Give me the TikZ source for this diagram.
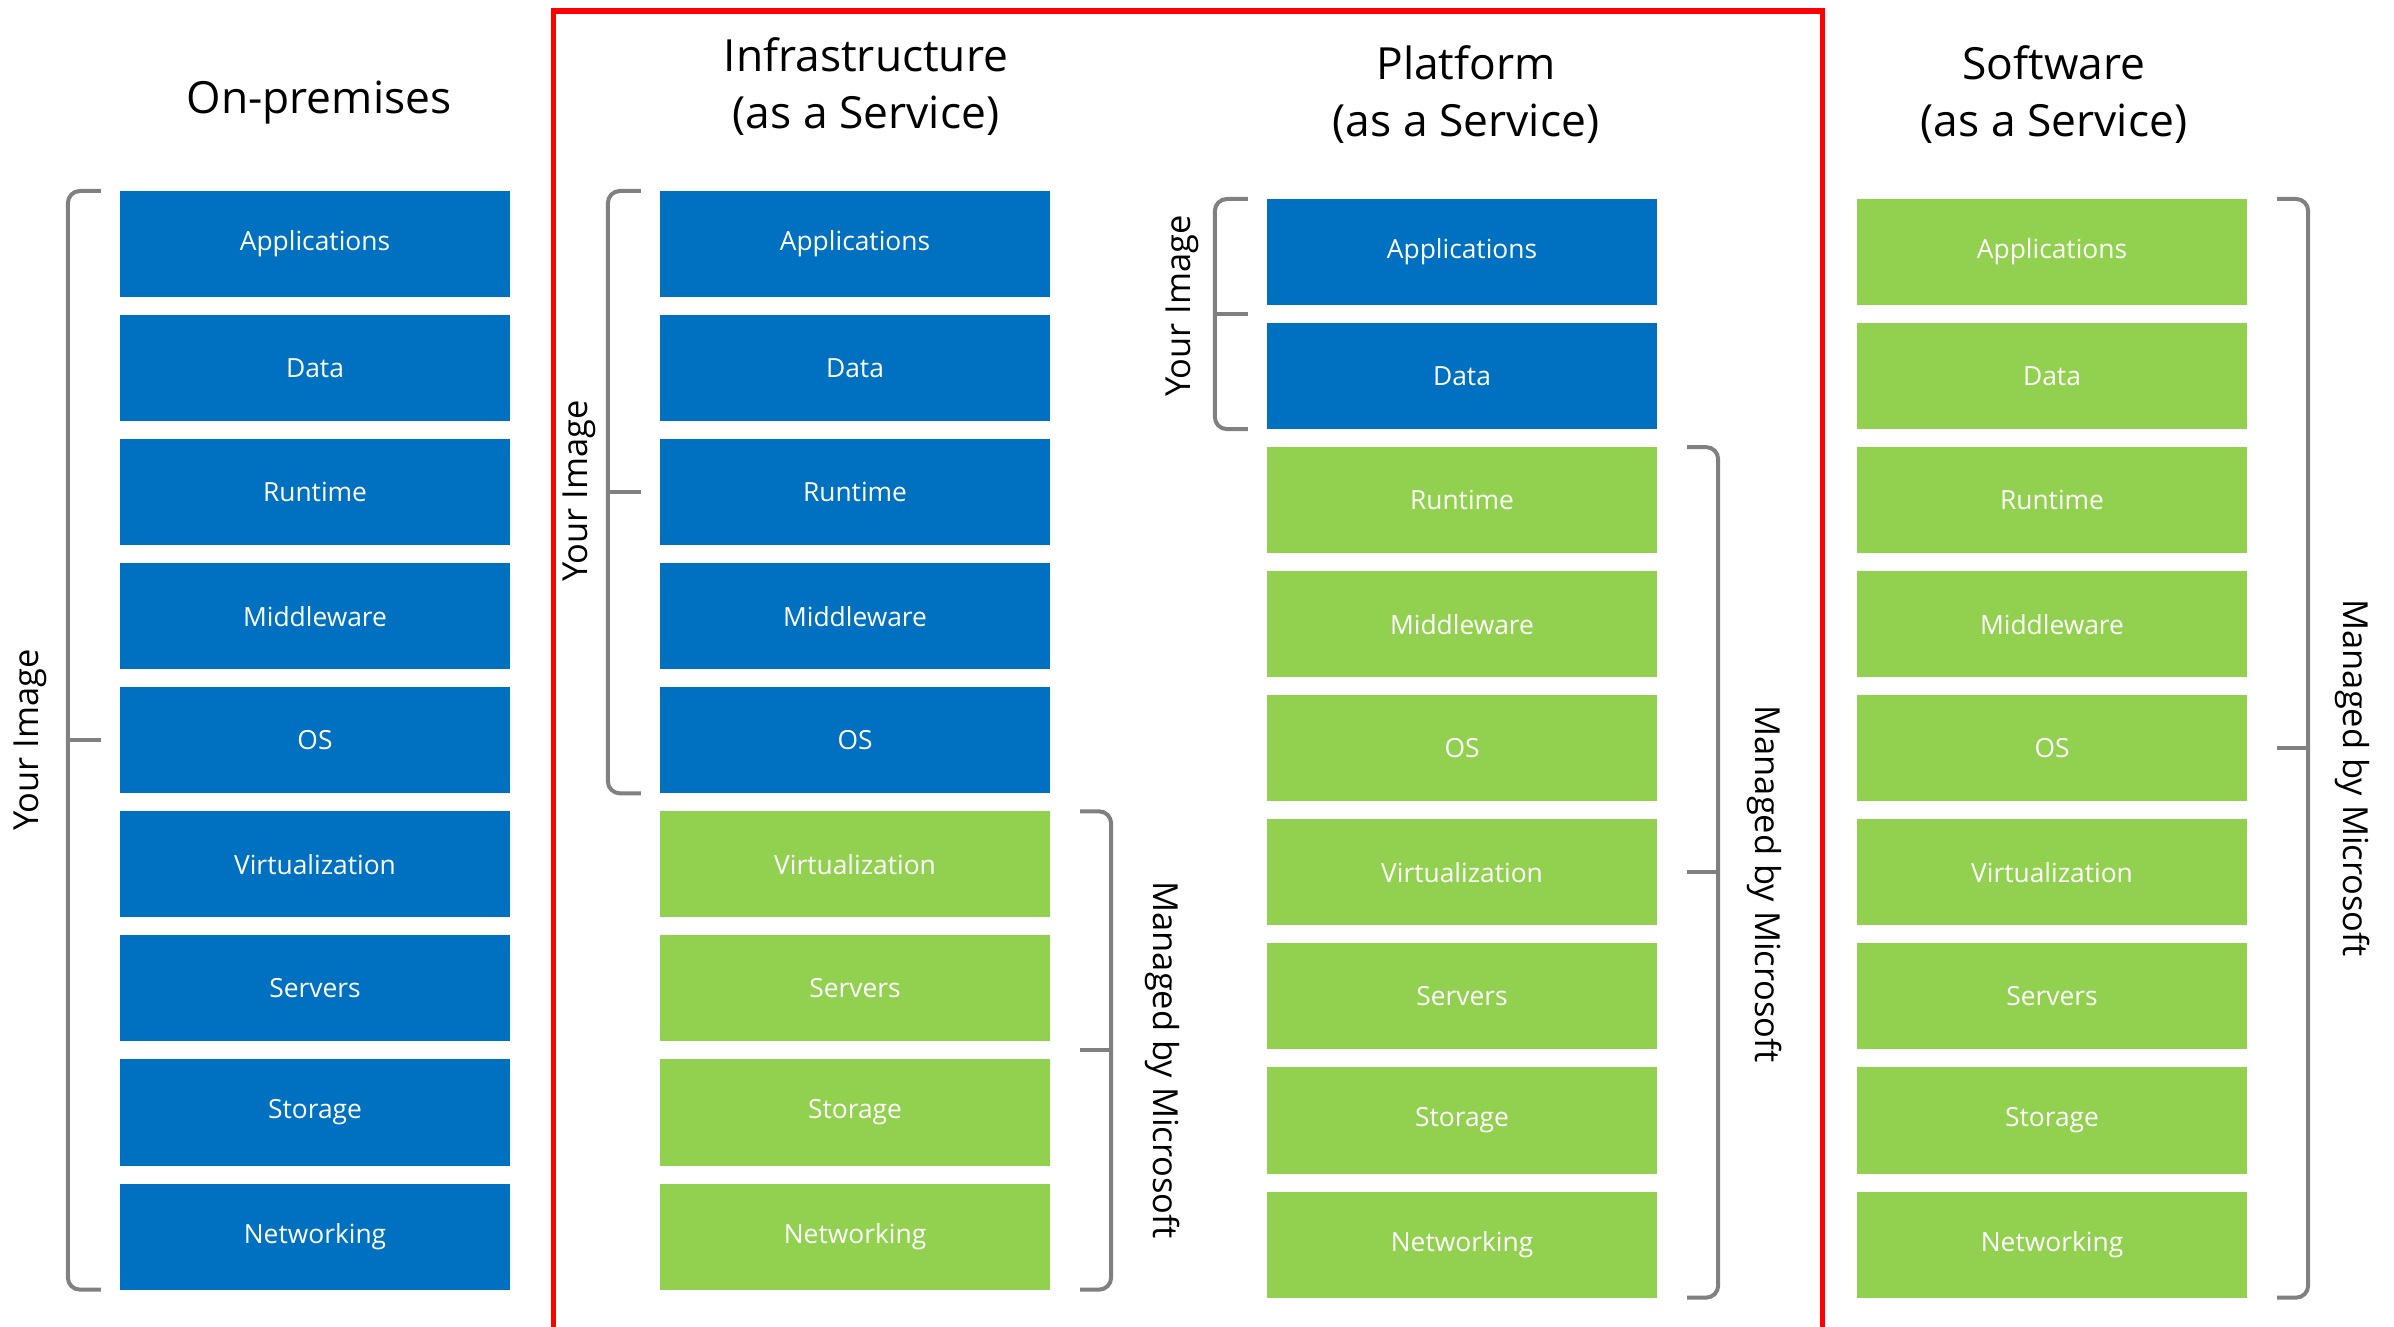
\documentclass[tikz,border=0pt]{standalone}
\usepackage{xcolor}
\usepackage{fontspec}
\setmainfont{Open Sans}
\usepackage{tikz}
\usetikzlibrary{positioning}
\usetikzlibrary{calc}

\definecolor{azblue}{HTML}{0070C0}
\definecolor{azgreen}{HTML}{92D050}
\definecolor{brgray}{HTML}{808080}

\begin{document}
\begin{tikzpicture}[x=0.01cm, y=-0.01cm, node distance=0.18cm,
        bbox/.style={rectangle, fill=azblue, text=white, minimum width=3.9cm, minimum height=1.06cm, inner sep=0pt, outer sep=0pt, font=\fontsize{7.5pt}{9pt}\selectfont},
        gbox/.style={bbox, fill=azgreen},
        ttl/.style={align=center, font=\fontsize{12.6pt}{16.2pt}\selectfont},
        side/.style={font=\fontsize{9.8pt}{12pt}\selectfont},
        brk/.style={draw=brgray, line width=0.04cm, rounded corners=0.12cm}]
        \useasboundingbox (0,0) rectangle (2394,1326);

        % 标题
        \node[ttl] (opt) at (319,103) {On-premises};
        \node[ttl] (iat) at (866,87) {Infrastructure\\(as a Service)};
        \node[ttl] (pat) at (1466,95) {Platform\\(as a Service)};
        \node[ttl] (sat) at (2054,95) {Software\\(as a Service)};

        % On-premises 栈
        \node[bbox] (op1) at (315,244) {Applications};
        \node[bbox, below=of op1] (op2) {Data};
        \node[bbox, below=of op2] (op3) {Runtime};
        \node[bbox, below=of op3] (op4) {Middleware};
        \node[bbox, below=of op4] (op5) {OS};
        \node[bbox, below=of op5] (op6) {Virtualization};
        \node[bbox, below=of op6] (op7) {Servers};
        \node[bbox, below=of op7] (op8) {Storage};
        \node[bbox, below=of op8] (op9) {Networking};

        % IaaS 栈
        \node[bbox] (ia1) at (855,244) {Applications};
        \node[bbox, below=of ia1] (ia2) {Data};
        \node[bbox, below=of ia2] (ia3) {Runtime};
        \node[bbox, below=of ia3] (ia4) {Middleware};
        \node[bbox, below=of ia4] (ia5) {OS};
        \node[gbox, below=of ia5] (ia6) {Virtualization};
        \node[gbox, below=of ia6] (ia7) {Servers};
        \node[gbox, below=of ia7] (ia8) {Storage};
        \node[gbox, below=of ia8] (ia9) {Networking};

        % PaaS 栈
        \node[bbox] (pa1) at (1462,252) {Applications};
        \node[bbox, below=of pa1] (pa2) {Data};
        \node[gbox, below=of pa2] (pa3) {Runtime};
        \node[gbox, below=of pa3] (pa4) {Middleware};
        \node[gbox, below=of pa4] (pa5) {OS};
        \node[gbox, below=of pa5] (pa6) {Virtualization};
        \node[gbox, below=of pa6] (pa7) {Servers};
        \node[gbox, below=of pa7] (pa8) {Storage};
        \node[gbox, below=of pa8] (pa9) {Networking};

        % SaaS 栈
        \node[gbox] (sa1) at (2052,252) {Applications};
        \node[gbox, below=of sa1] (sa2) {Data};
        \node[gbox, below=of sa2] (sa3) {Runtime};
        \node[gbox, below=of sa3] (sa4) {Middleware};
        \node[gbox, below=of sa4] (sa5) {OS};
        \node[gbox, below=of sa5] (sa6) {Virtualization};
        \node[gbox, below=of sa6] (sa7) {Servers};
        \node[gbox, below=of sa7] (sa8) {Storage};
        \node[gbox, below=of sa8] (sa9) {Networking};

        % 左侧括号 Your Image
        \draw[brk] ([xshift=-0.19cm]op1.north west) -- ([xshift=-0.52cm]op1.north west) -- ([xshift=-0.52cm]op9.south west) -- ([xshift=-0.19cm]op9.south west);
        \draw[brk] ($([xshift=-0.52cm]op1.north west)!0.5!([xshift=-0.52cm]op9.south west)$) -- ++(0.33cm,0);
        \draw[brk] ([xshift=-0.19cm]ia1.north west) -- ([xshift=-0.52cm]ia1.north west) -- ([xshift=-0.52cm]ia5.south west) -- ([xshift=-0.19cm]ia5.south west);
        \draw[brk] ($([xshift=-0.52cm]ia1.north west)!0.5!([xshift=-0.52cm]ia5.south west)$) -- ++(0.33cm,0);
        \draw[brk] ([xshift=-0.19cm]pa1.north west) -- ([xshift=-0.52cm]pa1.north west) -- ([xshift=-0.52cm]pa2.south west) -- ([xshift=-0.19cm]pa2.south west);
        \draw[brk] ($([xshift=-0.52cm]pa1.north west)!0.5!([xshift=-0.52cm]pa2.south west)$) -- ++(0.33cm,0);

        % 右侧括号 Managed by Microsoft
        \draw[brk] ([xshift=0.30cm]ia6.north east) -- ([xshift=0.61cm]ia6.north east) -- ([xshift=0.61cm]ia9.south east) -- ([xshift=0.30cm]ia9.south east);
        \draw[brk] ($([xshift=0.61cm]ia6.north east)!0.5!([xshift=0.61cm]ia9.south east)$) -- ++(-0.31cm,0);
        \draw[brk] ([xshift=0.30cm]pa3.north east) -- ([xshift=0.61cm]pa3.north east) -- ([xshift=0.61cm]pa9.south east) -- ([xshift=0.30cm]pa9.south east);
        \draw[brk] ($([xshift=0.61cm]pa3.north east)!0.5!([xshift=0.61cm]pa9.south east)$) -- ++(-0.31cm,0);
        \draw[brk] ([xshift=0.30cm]sa1.north east) -- ([xshift=0.61cm]sa1.north east) -- ([xshift=0.61cm]sa9.south east) -- ([xshift=0.30cm]sa9.south east);
        \draw[brk] ($([xshift=0.61cm]sa1.north east)!0.5!([xshift=0.61cm]sa9.south east)$) -- ++(-0.31cm,0);

        % 括号文字
        \node[side, rotate=90] (yi1) at (30,740) {Your Image};
        \node[side, rotate=90] (yi2) at (579,491) {Your Image};
        \node[side, rotate=90] (yi3) at (1182,306) {Your Image};
        \node[side, rotate=-90] (mm2) at (1163,1060) {Managed by Microsoft};
        \node[side, rotate=-90] (mm3) at (1765,884) {Managed by Microsoft};
        \node[side, rotate=-90] (mm4) at (2353,778) {Managed by Microsoft};

        % 红框
        \draw[red, line width=0.055cm] (553.5,1340) -- (553.5,11) -- (1822.5,11) -- (1822.5,1340);

    \end{tikzpicture}
\end{document}
